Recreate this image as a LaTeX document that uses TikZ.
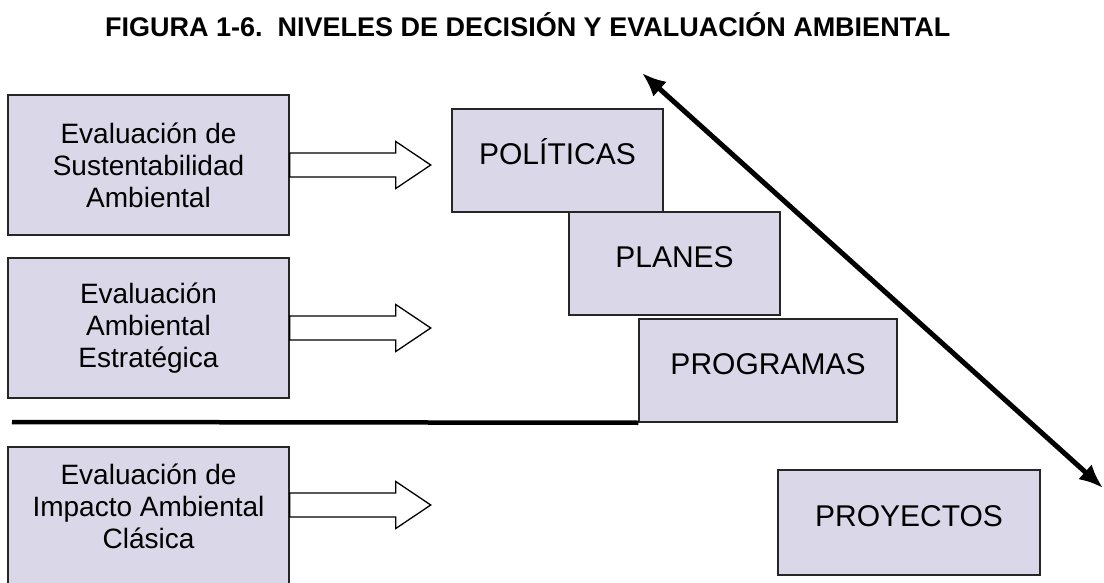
\documentclass[tikz,border=0pt]{standalone}
\usepackage{fontspec}
\setmainfont{Liberation Sans}
\usetikzlibrary{arrows.meta}
\definecolor{boxfill}{RGB}{218,216,232}
\begin{document}
\begin{tikzpicture}[x=1pt,y=-1pt,
	evalbox/.style={draw=black!85,line width=1.5pt,fill=boxfill,minimum width=281pt,minimum height=140pt,
		align=center,inner sep=0pt,font=\fontsize{28}{32}\selectfont},
	levelbox/.style={draw=black!85,line width=1.5pt,fill=boxfill,minimum height=103pt,inner sep=0pt,
		text height=22pt,text depth=14pt,font=\fontsize{30}{36}\selectfont},
	blockarrow/.style={draw=black,line width=1.3pt,fill=white,line join=miter},
	divider/.style={line width=4.5pt},
	scalearrow/.style={line width=5pt,{Latex[length=24pt,width=20pt]}-{Latex[length=24pt,width=20pt]}}]
	\useasboundingbox (0,0) rectangle (1104,583);
	\node[anchor=base west,inner sep=0pt,font=\fontsize{27}{32}\selectfont\bfseries] (title) at (105,37)
		{FIGURA 1-6.\ \ NIVELES DE DECISIÓN Y EVALUACIÓN AMBIENTAL};
	% evaluation types
	\node[evalbox] (sust) at (148.5,165) {Evaluación de\\Sustentabilidad\\Ambiental};
	\node[evalbox] (estr) at (148.5,328) {Evaluación\\Ambiental\\Estratégica};
	\node[evalbox,minimum height=160pt,text height=86pt,text depth=44pt] (clas) at (148.5,527)
		{Evaluación de\\Impacto Ambiental\\Clásica};
	\foreach \b/\s in {sust/0,estr/0,clas/22}
		\draw[blockarrow] ([yshift=\s pt+12pt]\b.east) -- ++(106,0) -- ++(0,-11.5) -- ++(35,23.5)
			-- ++(-35,23.5) -- ++(0,-11.5) -- ([yshift=\s pt-12pt]\b.east) -- cycle;
	% decision levels
	\node[levelbox,minimum width=211pt] (pol) at (557.5,160.5) {POLÍTICAS};
	\node[levelbox,minimum width=211pt] (pla) at (674.5,263.5) {PLANES};
	\node[levelbox,minimum width=258pt] (prg) at (768,370.5) {PROGRAMAS};
	\node[levelbox,minimum width=262pt,minimum height=105pt] (pry) at (909,522.5) {PROYECTOS};
	\coordinate (lineend) at (12,422);
	\draw[divider] (lineend) -- (prg.south west);
	\coordinate (hi) at (642,73);
	\coordinate (lo) at (1103,488);
	\draw[scalearrow] (hi) -- (lo);
\end{tikzpicture}
\end{document}
